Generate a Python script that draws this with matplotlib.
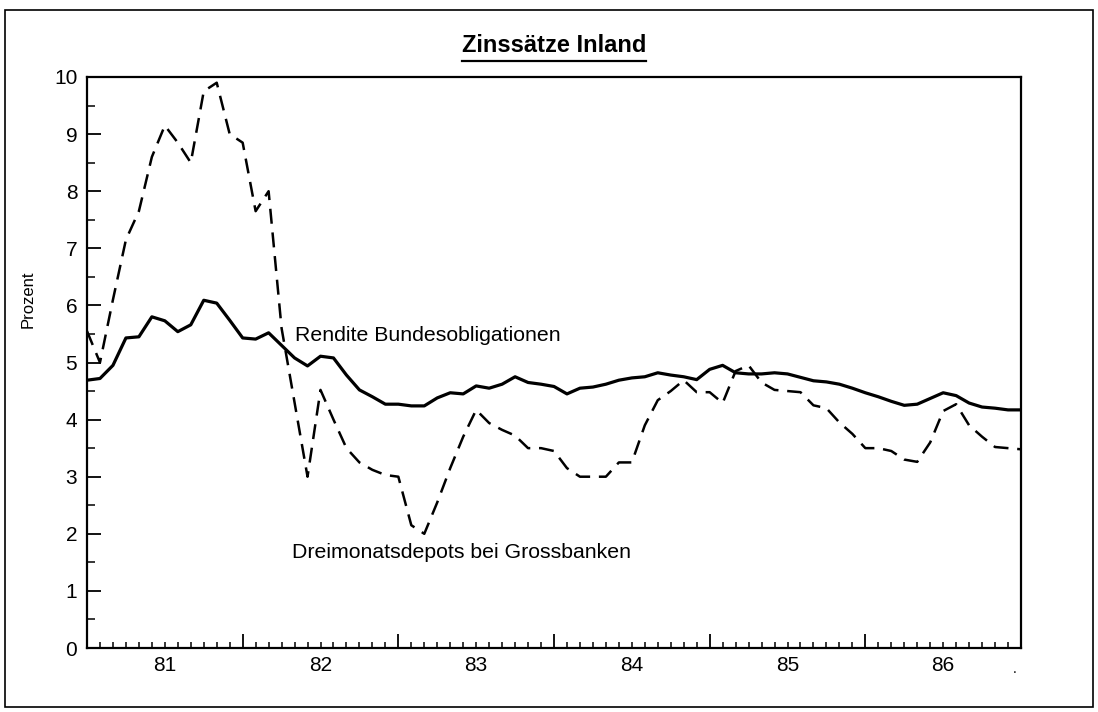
import matplotlib
matplotlib.use("Agg")
import matplotlib.pyplot as plt
from matplotlib.lines import Line2D
from matplotlib.patches import Rectangle
import numpy as np

plt.rcParams['font.family'] = ['Liberation Sans', 'DejaVu Sans']

# monatswerte Jan 1981 .. Jan 1987 (73 punkte)
rendite = [4.69, 4.72, 4.95, 5.43, 5.45, 5.80, 5.73, 5.54, 5.66, 6.09,
           6.04, 5.74, 5.43, 5.41, 5.52, 5.30, 5.08, 4.94, 5.11, 5.08,
           4.78, 4.52, 4.40, 4.27, 4.27, 4.24, 4.24, 4.38, 4.47, 4.45,
           4.59, 4.55, 4.62, 4.75, 4.65, 4.62, 4.58, 4.45, 4.55, 4.57,
           4.62, 4.69, 4.73, 4.75, 4.82, 4.78, 4.75, 4.70, 4.88, 4.95,
           4.82, 4.80, 4.80, 4.82, 4.80, 4.74, 4.68, 4.66, 4.62, 4.55,
           4.47, 4.40, 4.32, 4.25, 4.27, 4.37, 4.47, 4.42, 4.29, 4.22,
           4.20, 4.17, 4.17]
depots = [5.55, 5.00, 6.10, 7.15, 7.65, 8.60, 9.15, 8.85, 8.50, 9.75,
          9.90, 9.00, 8.85, 7.65, 8.00, 5.60, 4.30, 3.00, 4.52, 4.00,
          3.50, 3.25, 3.12, 3.03, 3.00, 2.15, 2.00, 2.55, 3.15, 3.70,
          4.17, 3.94, 3.82, 3.72, 3.50, 3.50, 3.45, 3.15, 3.00, 3.00,
          3.00, 3.25, 3.25, 3.90, 4.34, 4.50, 4.69, 4.48, 4.48, 4.29,
          4.85, 4.95, 4.65, 4.52, 4.50, 4.48, 4.25, 4.20, 3.95, 3.75,
          3.50, 3.50, 3.45, 3.30, 3.26, 3.60, 4.15, 4.27, 3.90, 3.70,
          3.52, 3.50, 3.48]
jahre = ['81', '82', '83', '84', '85', '86']

monate = np.arange(len(rendite))

fig = plt.figure(figsize=(10.98, 7.12), dpi=100)
ax = fig.add_axes([87 / 1098, 64 / 712, 934 / 1098, 571 / 712])

ax.plot(monate, rendite, color='k', linewidth=2.3, solid_joinstyle='round')
ax.plot(monate, depots, color='k', linewidth=1.8, dashes=(6, 3.5))

ax.set_xlim(0, 72)
ax.set_ylim(0, 10)

# jahresgrenzen lang, monate kurz, jahreszahl in der jahresmitte
ax.set_xticks(np.arange(0, 73, 12))
ax.set_xticklabels([])
minor = [m for m in range(1, 72) if m % 12 != 0]
ax.set_xticks(minor, minor=True)
ax.set_xticklabels([jahre[m // 12] if m % 12 == 6 else '' for m in minor], minor=True)
ax.tick_params(axis='x', which='major', direction='in', length=10, width=1.3)
ax.tick_params(axis='x', which='minor', direction='in', length=4, width=1.1,
               labelsize=15, pad=6)

ax.set_yticks(np.arange(0, 11, 1))
ax.set_yticks(np.arange(0.5, 10, 1), minor=True)
ax.tick_params(axis='y', which='major', direction='in', length=10, width=1.3,
               labelsize=15, pad=7)
ax.tick_params(axis='y', which='minor', direction='in', length=6, width=1.1)

for s in ax.spines.values():
    s.set_linewidth(1.6)

ax.set_ylabel('Prozent', fontsize=12)
ax.yaxis.set_label_coords(-0.055, 0.61)

ax.text(16.0, 5.48, 'Rendite Bundesobligationen', fontsize=15.3, va='center')
ax.text(15.8, 1.68, 'Dreimonatsdepots bei Grossbanken', fontsize=15.3, va='center')

titel = fig.text(554 / 1098, 1 - 45 / 712, 'Zinssätze Inland', fontsize=17,
                 fontweight='bold', ha='center', va='center')
fig.canvas.draw()
bb = titel.get_window_extent().transformed(fig.transFigure.inverted())
fig.add_artist(Line2D([bb.x0, bb.x1], [bb.y0 - 0.007, bb.y0 - 0.007],
                      color='k', linewidth=1.6, transform=fig.transFigure))

# rahmen um das ganze blatt
fig.add_artist(Rectangle((5 / 1098, 5 / 712), 1088 / 1098, 697 / 712,
                         fill=False, edgecolor='k', linewidth=1.2,
                         transform=fig.transFigure))
fig.text(1015 / 1098, 1 - 669 / 712, '.', fontsize=10, ha='center', va='center')

fig.savefig('out.png', dpi=100)
